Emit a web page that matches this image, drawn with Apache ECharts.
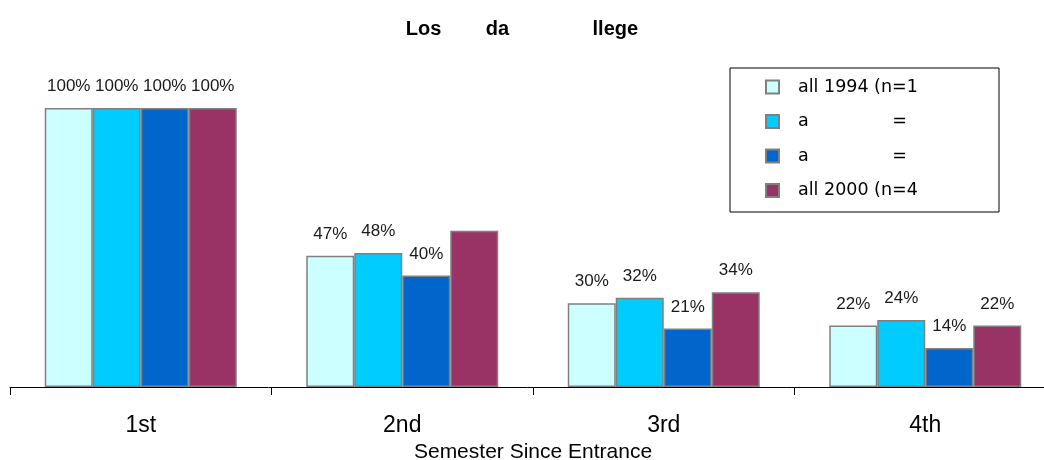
<!DOCTYPE html>
<html>
<head>
<meta charset="utf-8">
<script src="https://cdn.jsdelivr.net/npm/echarts@6/dist/echarts.min.js"></script>
<style>
  html, body { margin: 0; padding: 0; background: #fff; }
  #chart { width: 1044px; height: 460px; }
</style>
</head>
<body>
<div id="chart"></div>
<script>
// Semesters on the category axis
const semesters = ['1st', '2nd', '3rd', '4th'];

// Persistence rates (%) for each entering cohort
const fall1994 = [100, 47, 30, 22];
const cohortB  = [100, 48, 32, 24];
const cohortC  = [100, 40, 21, 14];
const fall2000 = [100, 56, 34, 22];

// Legend labels as printed
const legendLabels = [
  'all 1994 (n=1',
  'a               =',
  'a               =',
  'all 2000 (n=4'
];

// Points whose value label is left off (series index -> category indices)
const hiddenLabels = { 3: [1] };

const colors = ['#CCFFFF', '#00CCFF', '#0066CC', '#993366'];
const seriesData = [fall1994, cohortB, cohortC, fall2000];
const keys = ['k0', 'k1', 'k2', 'k3'];

const FONT = '"Liberation Sans", Arial, sans-serif';
const WIDE_FONT = '"DejaVu Sans", sans-serif';

const chart = echarts.init(document.getElementById('chart'), null, { renderer: 'canvas' });

const series = seriesData.map((vals, si) => ({
  name: keys[si],
  type: 'bar',
  barWidth: 48,
  barGap: '0%',
  itemStyle: { color: colors[si], borderColor: '#808080', borderWidth: 1.5 },
  label: {
    show: true,
    position: 'top',
    distance: 13,
    formatter: '{c}%',
    fontFamily: FONT,
    fontSize: 17,
    color: '#1a1a1a'
  },
  data: vals.map((v, i) => {
    const hide = (hiddenLabels[si] || []).includes(i);
    return hide ? { value: v, label: { show: false } } : v;
  })
}));

chart.setOption({
  animation: false,
  backgroundColor: '#ffffff',
  title: {
    text: 'Los        da               llege',
    left: 'center',
    top: 14,
    textStyle: { fontFamily: FONT, fontSize: 20, fontWeight: 'bold', color: '#000' }
  },
  legend: {
    orient: 'vertical',
    left: 760,
    top: 73,
    itemWidth: 13,
    itemHeight: 13,
    itemGap: 16.5,
    icon: 'rect',
    data: keys,
    formatter: (name) => legendLabels[keys.indexOf(name)],
    textStyle: { fontFamily: WIDE_FONT, fontSize: 17.5, color: '#000', padding: [0, 0, 0, 14] }
  },
  graphic: [{
    type: 'rect',
    left: 727.5,
    top: 65.5,
    shape: { width: 269, height: 144 },
    style: { fill: 'none', stroke: '#000', lineWidth: 1 },
    z: -1
  }],
  grid: {
    left: 10, right: -12, top: 108, bottom: 73,
    containLabel: false,
    outerBoundsMode: 'none'
  },
  xAxis: {
    type: 'category',
    data: semesters,
    axisLine: { show: true, lineStyle: { color: '#000', width: 1 } },
    axisTick: { show: true, length: 8, lineStyle: { color: '#000' } },
    axisLabel: { margin: 27, fontFamily: FONT, fontSize: 23, color: '#000' },
    name: 'Semester Since Entrance',
    nameLocation: 'middle',
    nameGap: 54,
    nameTextStyle: { fontFamily: FONT, fontSize: 21, color: '#000' }
  },
  yAxis: {
    type: 'value',
    min: 0,
    max: 100,
    show: false,
    splitLine: { show: false }
  },
  series: series
});
</script>
</body>
</html>
